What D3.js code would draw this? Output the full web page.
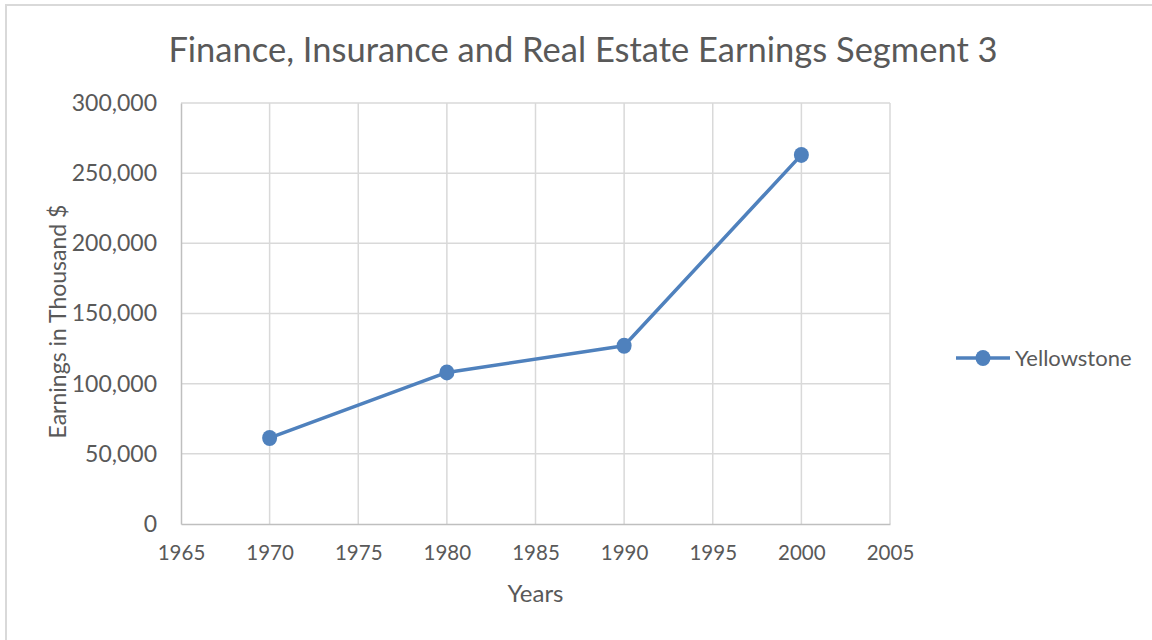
<!DOCTYPE html>
<html>
<head>
<meta charset="utf-8">
<script src="https://cdn.jsdelivr.net/npm/d3@7"></script>
<style>
  body { margin: 0; background: #fff; }
  svg { display: block; font-family: Lato, "Open Sans", sans-serif; }
</style>
</head>
<body>
<svg width="1152" height="640"></svg>
<script>
var years = [1970, 1980, 1990, 2000];
var earnings = [61300, 108000, 127000, 263000];
var xTicks = [1965, 1970, 1975, 1980, 1985, 1990, 1995, 2000, 2005];
var yTicks = [0, 50000, 100000, 150000, 200000, 250000, 300000];
var seriesName = "Yellowstone";

var data = years.map(function (y, i) { return { year: y, value: earnings[i] }; });

var margin = { top: 103, right: 262, bottom: 116, left: 181 },
    width = 1152 - margin.left - margin.right,
    height = 640 - margin.top - margin.bottom;

var svg = d3.select("svg");

// outer chart frame
svg.append("rect")
    .attr("x", 6).attr("y", 5)
    .attr("width", 1160).attr("height", 660)
    .attr("fill", "none")
    .attr("stroke", "#d9d9d9")
    .attr("stroke-width", 2);

svg.append("text")
    .attr("x", 583)
    .attr("y", 62)
    .attr("text-anchor", "middle")
    .attr("fill", "#595959")
    .style("font-size", "34.5px")
    .text("Finance, Insurance and Real Estate Earnings Segment 3");

var g = svg.append("g")
    .attr("transform", "translate(" + margin.left + "," + margin.top + ")");

var xScale = d3.scaleLinear().domain([1965, 2005]).range([0, width]);
var yScale = d3.scaleLinear().domain([0, 300000]).range([height, 0]);

// gridlines
g.append("g").selectAll("line")
    .data(yTicks.slice(1))
    .join("line")
    .attr("x1", 0).attr("x2", width)
    .attr("y1", function (d) { return yScale(d); })
    .attr("y2", function (d) { return yScale(d); })
    .attr("stroke", "#d9d9d9")
    .attr("stroke-width", 1.5);

g.append("g").selectAll("line")
    .data(xTicks.slice(1))
    .join("line")
    .attr("x1", function (d) { return xScale(d); })
    .attr("x2", function (d) { return xScale(d); })
    .attr("y1", 0).attr("y2", height)
    .attr("stroke", "#d9d9d9")
    .attr("stroke-width", 1.5);

var xAxis = d3.axisBottom(xScale).tickValues(xTicks).tickFormat(d3.format("d")).tickSize(0).tickPadding(21);
var yAxis = d3.axisLeft(yScale).tickValues(yTicks).tickFormat(d3.format(",")).tickSize(0).tickPadding(24);

var gx = g.append("g").attr("transform", "translate(0," + height + ")").call(xAxis);
var gy = g.append("g").call(yAxis);

[gx, gy].forEach(function (a) {
    a.select(".domain").attr("stroke", "#bfbfbf").attr("stroke-width", 1.5);
    a.selectAll("text")
        .attr("fill", "#595959")
        .style("font-family", "Lato, 'Open Sans', sans-serif");
});
gx.selectAll("text").attr("dy", "0.71em").style("font-size", "20.5px");
gy.selectAll("text").style("font-size", "23px");

// axis titles
svg.append("text")
    .attr("x", margin.left + width / 2)
    .attr("y", 602)
    .attr("text-anchor", "middle")
    .attr("fill", "#595959")
    .style("font-size", "24px")
    .text("Years");

svg.append("text")
    .attr("transform", "translate(66," + (margin.top + height / 2 + 8) + ") rotate(-90)")
    .attr("text-anchor", "middle")
    .attr("fill", "#595959")
    .style("font-size", "23px")
    .text("Earnings in Thousand $");

var line = d3.line()
    .x(function (d) { return xScale(d.year); })
    .y(function (d) { return yScale(d.value); });

g.append("path")
    .datum(data)
    .attr("fill", "none")
    .attr("stroke", "#4f81bd")
    .attr("stroke-width", 3.5)
    .attr("stroke-linejoin", "round")
    .attr("d", line);

g.selectAll(".dot")
    .data(data)
    .join("ellipse")
    .attr("class", "dot")
    .attr("cx", function (d) { return xScale(d.year); })
    .attr("cy", function (d) { return yScale(d.value); })
    .attr("rx", 7.5)
    .attr("ry", 8)
    .attr("fill", "#4f81bd");

// legend
var legend = svg.append("g").attr("transform", "translate(956,358)");
legend.append("line")
    .attr("x1", 0).attr("x2", 54)
    .attr("stroke", "#4f81bd")
    .attr("stroke-width", 3.5);
legend.append("ellipse")
    .attr("cx", 27).attr("rx", 7.5).attr("ry", 8)
    .attr("fill", "#4f81bd");
legend.append("text")
    .attr("x", 59)
    .attr("dy", "0.35em")
    .attr("fill", "#595959")
    .style("font-size", "22px")
    .text(seriesName);
</script>
</body>
</html>
